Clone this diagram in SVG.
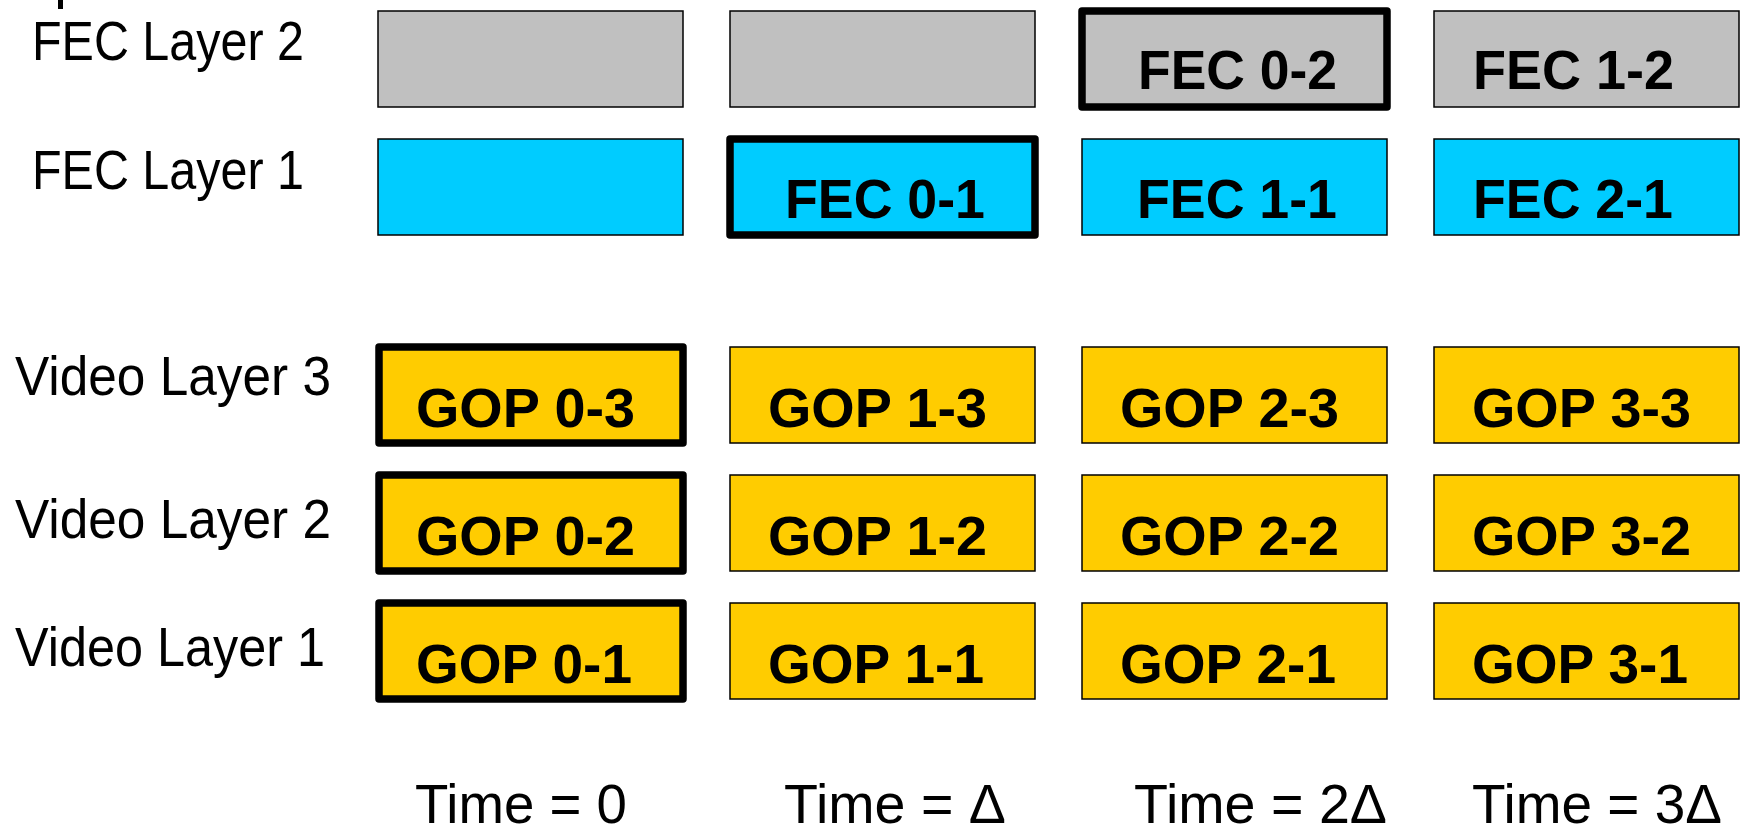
<svg xmlns="http://www.w3.org/2000/svg" width="1743" height="829" viewBox="0 0 1743 829">
  <style>
    .box { stroke: #000; stroke-width: 1.5; }
    .hot { stroke: #000; stroke-width: 7.5; stroke-linejoin: round; }
    .fec2 { fill: #C0C0C0; }
    .fec1 { fill: #00CCFF; }
    .gop { fill: #FFCC00; }
    .lbl { font-family: "Liberation Sans", Arial, sans-serif; font-size: 55px; fill: #000; }
    .tag { font-family: "Liberation Sans", Arial, sans-serif; font-size: 55px; font-weight: bold; fill: #000; }
  </style>
  <rect width="1743" height="829" fill="#fff"/>
  <rect x="58" y="0" width="5" height="9" fill="#000"/>

  <!-- row labels -->
  <g id="row-labels">
    <text class="lbl" x="32" y="60" textLength="272" lengthAdjust="spacingAndGlyphs">FEC Layer 2</text>
    <text class="lbl" x="32" y="189" textLength="272" lengthAdjust="spacingAndGlyphs">FEC Layer 1</text>
    <text class="lbl" x="15" y="395" textLength="316" lengthAdjust="spacingAndGlyphs">Video Layer 3</text>
    <text class="lbl" x="15" y="538" textLength="316" lengthAdjust="spacingAndGlyphs">Video Layer 2</text>
    <text class="lbl" x="15" y="666" textLength="310" lengthAdjust="spacingAndGlyphs">Video Layer 1</text>
  </g>

  <!-- FEC layer 2 -->
  <g id="fec2-t0"><rect class="box fec2" x="378" y="11" width="305" height="96"/></g>
  <g id="fec2-t1"><rect class="box fec2" x="730" y="11" width="305" height="96"/></g>
  <g id="fec0-2"><rect class="hot fec2" x="1082" y="11" width="305" height="96"/>
    <text class="tag" x="1138" y="89" textLength="199" lengthAdjust="spacingAndGlyphs">FEC 0-2</text></g>
  <g id="fec1-2"><rect class="box fec2" x="1434" y="11" width="305" height="96"/>
    <text class="tag" x="1473" y="89" textLength="201" lengthAdjust="spacingAndGlyphs">FEC 1-2</text></g>

  <!-- FEC layer 1 -->
  <g id="fec1-t0"><rect class="box fec1" x="378" y="139" width="305" height="96"/></g>
  <g id="fec0-1"><rect class="hot fec1" x="730" y="139" width="305" height="96"/>
    <text class="tag" x="785" y="218" textLength="200" lengthAdjust="spacingAndGlyphs">FEC 0-1</text></g>
  <g id="fec1-1"><rect class="box fec1" x="1082" y="139" width="305" height="96"/>
    <text class="tag" x="1137" y="218" textLength="200" lengthAdjust="spacingAndGlyphs">FEC 1-1</text></g>
  <g id="fec2-1"><rect class="box fec1" x="1434" y="139" width="305" height="96"/>
    <text class="tag" x="1473" y="218" textLength="200" lengthAdjust="spacingAndGlyphs">FEC 2-1</text></g>

  <!-- video layer 3 -->
  <g id="gop0-3"><rect class="hot gop" x="379" y="347" width="304" height="96"/>
    <text class="tag" x="416" y="427" textLength="219" lengthAdjust="spacingAndGlyphs">GOP 0-3</text></g>
  <g id="gop1-3"><rect class="box gop" x="730" y="347" width="305" height="96"/>
    <text class="tag" x="768" y="427" textLength="219" lengthAdjust="spacingAndGlyphs">GOP 1-3</text></g>
  <g id="gop2-3"><rect class="box gop" x="1082" y="347" width="305" height="96"/>
    <text class="tag" x="1120" y="427" textLength="219" lengthAdjust="spacingAndGlyphs">GOP 2-3</text></g>
  <g id="gop3-3"><rect class="box gop" x="1434" y="347" width="305" height="96"/>
    <text class="tag" x="1472" y="427" textLength="219" lengthAdjust="spacingAndGlyphs">GOP 3-3</text></g>

  <!-- video layer 2 -->
  <g id="gop0-2"><rect class="hot gop" x="379" y="475" width="304" height="96"/>
    <text class="tag" x="416" y="555" textLength="219" lengthAdjust="spacingAndGlyphs">GOP 0-2</text></g>
  <g id="gop1-2"><rect class="box gop" x="730" y="475" width="305" height="96"/>
    <text class="tag" x="768" y="555" textLength="219" lengthAdjust="spacingAndGlyphs">GOP 1-2</text></g>
  <g id="gop2-2"><rect class="box gop" x="1082" y="475" width="305" height="96"/>
    <text class="tag" x="1120" y="555" textLength="219" lengthAdjust="spacingAndGlyphs">GOP 2-2</text></g>
  <g id="gop3-2"><rect class="box gop" x="1434" y="475" width="305" height="96"/>
    <text class="tag" x="1472" y="555" textLength="219" lengthAdjust="spacingAndGlyphs">GOP 3-2</text></g>

  <!-- video layer 1 -->
  <g id="gop0-1"><rect class="hot gop" x="379" y="603" width="304" height="96"/>
    <text class="tag" x="416" y="683" textLength="216" lengthAdjust="spacingAndGlyphs">GOP 0-1</text></g>
  <g id="gop1-1"><rect class="box gop" x="730" y="603" width="305" height="96"/>
    <text class="tag" x="768" y="683" textLength="216" lengthAdjust="spacingAndGlyphs">GOP 1-1</text></g>
  <g id="gop2-1"><rect class="box gop" x="1082" y="603" width="305" height="96"/>
    <text class="tag" x="1120" y="683" textLength="216" lengthAdjust="spacingAndGlyphs">GOP 2-1</text></g>
  <g id="gop3-1"><rect class="box gop" x="1434" y="603" width="305" height="96"/>
    <text class="tag" x="1472" y="683" textLength="216" lengthAdjust="spacingAndGlyphs">GOP 3-1</text></g>

  <!-- time axis -->
  <g id="time-labels">
    <text class="lbl" x="415" y="823" textLength="212" lengthAdjust="spacingAndGlyphs">Time = 0</text>
    <text class="lbl" x="784" y="823" textLength="222" lengthAdjust="spacingAndGlyphs">Time = Δ</text>
    <text class="lbl" x="1134" y="823" textLength="253" lengthAdjust="spacingAndGlyphs">Time = 2Δ</text>
    <text class="lbl" x="1472" y="823" textLength="250" lengthAdjust="spacingAndGlyphs">Time = 3Δ</text>
  </g>
  <g id="connectors"/>
</svg>
